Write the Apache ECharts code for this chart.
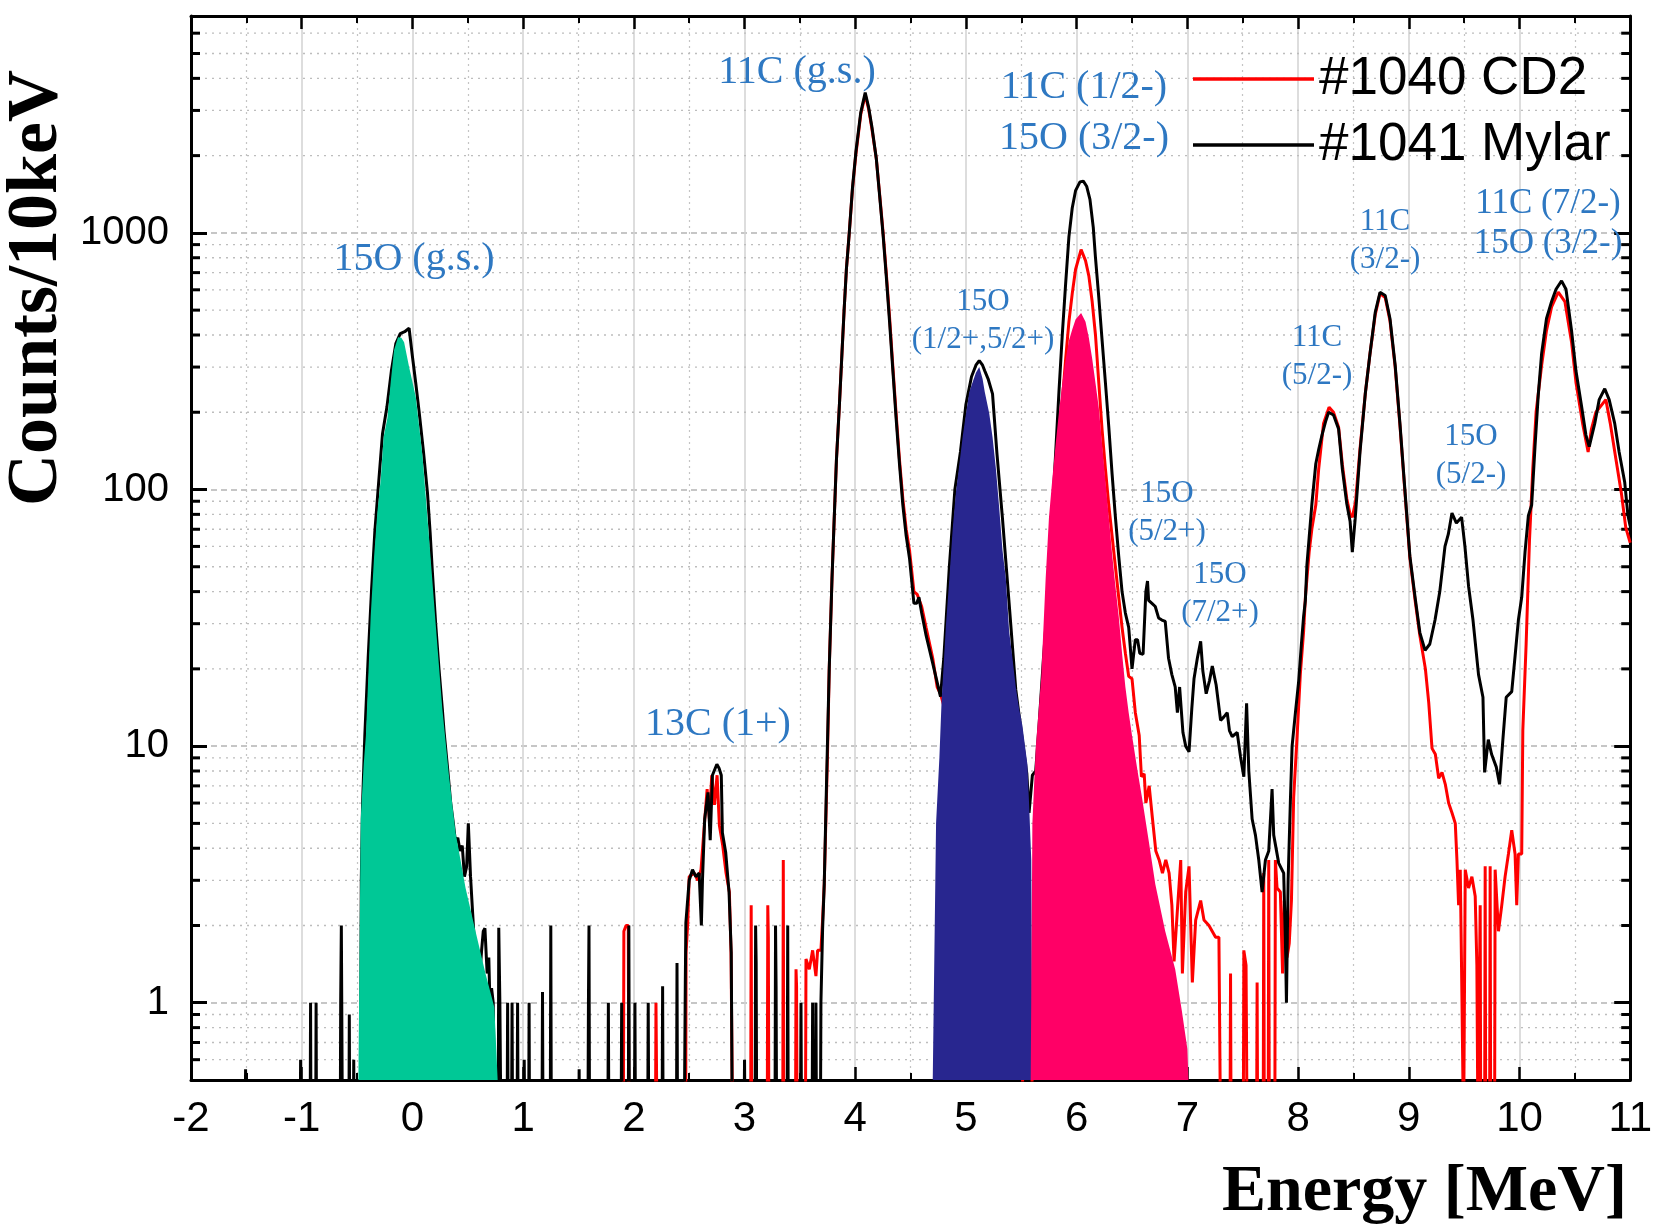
<!DOCTYPE html>
<html><head><meta charset="utf-8">
<script src="https://cdn.jsdelivr.net/npm/echarts/dist/echarts.min.js"></script>
<style>html,body{margin:0;padding:0;background:#fff}#c{width:1655px;height:1227px}</style>
</head><body><div id="c"></div>
<script>
// ---------------- data ----------------
const X_RANGE = [-2, 11];
const Y_RANGE = [0.5, 7000];
const Y_MAJOR = [1, 10, 100, 1000];
const Y_MINOR = [0.6,0.7,0.8,0.9,2,3,4,5,6,7,8,9,20,30,40,50,60,70,80,90,200,300,400,500,600,700,800,900,2000,3000,4000,5000,6000];
const SERIES_NAMES = ['#1040 CD2', '#1041 Mylar'];

// [energy MeV, counts per 10 keV]; 0 = empty bin
const mylar = [
[-2,0],[-1.512,0],[-1.507,0.55],[-1.502,0],
[-1.014,0],[-1.01,0.6],[-1.006,0],
[-0.924,0],[-0.92,1],[-0.916,0],
[-0.874,0],[-0.87,1],[-0.866,0],
[-0.652,0],[-0.648,1],[-0.642,2],[-0.636,2],[-0.632,0],
[-0.574,0],[-0.57,0.9],[-0.566,0],
[-0.534,0],[-0.53,0.6],[-0.526,0],
[-0.47,0],[-0.462,3],[-0.45,6],[-0.43,11],[-0.40,22],[-0.37,40],[-0.34,68],[-0.31,100],[-0.27,165],[-0.23,210],[-0.19,290],[-0.15,370],[-0.11,405],[-0.07,412],[-0.03,425],[0.0,330],[0.03,260],[0.06,202],[0.10,140],[0.136,97],[0.16,68],[0.18,48],[0.21,30],[0.24,20],[0.27,14],[0.286,11.4],[0.30,11.2],[0.32,8],[0.346,6],[0.37,5],[0.39,4.2],[0.41,4.4],[0.43,3.9],[0.45,4.1],[0.47,3.1],[0.49,3.4],[0.505,5],[0.515,5],[0.525,3.1],[0.545,2.2],[0.56,1.7],[0.572,1.65],[0.59,1.6],[0.61,1.3],[0.625,1.6],[0.64,1.9],[0.655,1.95],[0.663,1.92],[0.675,1.3],[0.69,1.5],[0.70,1.0],[0.715,1.14],[0.73,1.0],[0.745,0],[0.775,0],[0.78,1.96],[0.79,1],[0.80,0],
[0.855,0],[0.86,1],[0.865,0],[0.895,0],[0.9,1],[0.905,0],[0.945,0],[0.95,1],[0.955,0],[1.005,0],[1.01,0.6],[1.015,0],[1.05,0],[1.054,1],[1.058,0],[1.17,0],[1.175,1.1],[1.18,0],[1.245,0],[1.25,2],[1.255,0],[1.502,0],[1.506,0.55],[1.51,0],[1.585,0],[1.59,1],[1.595,2],[1.6,0],[1.765,0],[1.77,1],[1.775,0],[1.885,0],[1.89,1],[1.895,0],[1.95,0],[1.955,2],[1.96,0],[2.005,0],[2.01,1],[2.015,0],[2.125,0],[2.13,1],[2.135,0],[2.255,0],[2.26,1.16],[2.265,0],[2.385,0],[2.39,1.43],[2.395,0],
[2.455,0],[2.465,1.2],[2.47,2.05],[2.50,3.0],[2.53,3.3],[2.56,3.1],[2.59,3.2],[2.61,2.0],[2.62,3],[2.64,5.2],[2.67,6.6],[2.69,4.3],[2.71,7.7],[2.75,8.5],[2.77,8.2],[2.79,7.7],[2.80,4.6],[2.83,3.85],[2.86,2.7],[2.88,1.57],[2.89,0],
[2.995,0],[3.0,0.6],[3.005,0],[3.095,0],[3.1,2],[3.105,1.43],[3.11,0],[3.275,0],[3.28,2],[3.285,1.16],[3.29,0],[3.385,0],[3.39,2],[3.395,0],[3.505,0],[3.51,1],[3.515,0],[3.61,0],[3.615,1],[3.62,0],[3.64,0],[3.645,1],[3.65,0],[3.685,0],[3.69,1],[3.705,1.93],[3.72,2.9],[3.74,7],[3.765,20],[3.79,45],[3.81,77],[3.83,130],[3.856,210],[3.88,340],[3.9,505],[3.92,720],[3.946,1000],[3.975,1500],[4.006,2070],[4.05,2950],[4.09,3520],[4.12,3100],[4.15,2600],[4.19,1950],[4.22,1400],[4.25,1000],[4.28,680],[4.31,450],[4.34,290],[4.37,187],[4.4,125],[4.43,87],[4.46,66],[4.49,54],[4.53,36],[4.555,36],[4.575,38],[4.6,33],[4.64,27],[4.7,21],[4.77,15.6],[4.8,22],[4.85,50],[4.9,100],[4.95,140],[5.0,215],[5.05,275],[5.09,305],[5.12,318],[5.15,305],[5.17,290],[5.2,270],[5.24,236],[5.28,138],[5.33,77],[5.39,36],[5.45,16.6],[5.51,10.5],[5.55,7.8],[5.57,5.5],[5.6,7.7],[5.63,8],
[5.66,12],[5.70,22],[5.75,43],[5.78,80],[5.81,138],[5.84,240],[5.87,400],[5.9,630],[5.93,965],[5.96,1250],[5.99,1460],[6.03,1580],[6.06,1590],[6.09,1520],[6.12,1350],[6.15,1050],[6.17,800],[6.2,560],[6.23,380],[6.26,260],[6.29,176],[6.32,115],[6.35,78],[6.38,55],[6.41,40],[6.44,33],[6.47,29],[6.5,20],[6.53,26],[6.55,26],[6.57,23],[6.6,22.8],[6.625,40],[6.64,44],[6.65,37],[6.68,36],[6.71,35],[6.74,31.6],[6.77,31],[6.8,30.6],[6.83,22],[6.86,19],[6.89,17],[6.91,13.5],[6.93,17],[6.96,11.3],[6.985,10],[7.015,9.5],[7.04,14],[7.06,18.3],[7.09,22],[7.12,25.6],[7.14,19.6],[7.17,16],[7.2,18],[7.225,20.5],[7.26,17.3],[7.3,12.6],[7.33,13],[7.36,13.5],[7.38,11.5],[7.405,10.9],[7.45,11.3],[7.48,9.1],[7.51,7.6],[7.535,14.7],[7.555,8],[7.585,5.2],[7.615,4.5],[7.645,3.6],[7.675,2.7],[7.705,3.6],[7.735,3.9],[7.765,6.8],[7.78,4.5],[7.825,3.5],[7.87,3.2],[7.885,1.8],[7.895,1.0],[7.91,3.0],[7.93,6],[7.946,10],[7.976,13.5],[8.006,18],[8.03,25],[8.05,32],[8.066,37],[8.08,51],[8.1,65],[8.126,89],[8.16,126],[8.186,143],[8.216,163],[8.25,185],[8.276,200],[8.32,195],[8.366,172],[8.4,120],[8.44,88],[8.47,75],[8.49,57],[8.516,77],[8.56,141],[8.607,236],[8.65,339],[8.697,490],[8.74,587],[8.787,570],[8.83,464],[8.877,305],[8.92,181],[8.967,97],[9.01,55],[9.057,38],[9.1,27.7],[9.147,23.6],[9.19,25],[9.237,31],[9.28,40],[9.327,60],[9.357,67],[9.39,81],[9.43,74],[9.477,78],[9.507,60],[9.54,42],[9.58,31],[9.63,19],[9.67,15.5],[9.685,7.9],[9.718,10.6],[9.748,9.3],[9.79,8.3],[9.82,7.1],[9.85,10.6],[9.88,15.5],[9.93,16.3],[9.96,22.4],[9.99,31],[10.02,38],[10.05,57],[10.08,79],[10.11,87],[10.14,147],[10.17,235],[10.2,339],[10.244,464],[10.29,540],[10.33,603],[10.38,650],[10.42,603],[10.47,417],[10.51,290],[10.56,212],[10.6,163],[10.63,147],[10.68,181],[10.72,224],[10.77,247],[10.81,224],[10.86,181],[10.9,140],[10.95,107],[10.98,79],[11.0,72]
];

const cd2 = [
[-2,0],[1.905,0],[1.91,1.9],[1.93,2],[1.95,2],[1.955,0],[2.195,0],[2.2,1],[2.205,1],[2.21,0],
[2.468,0],[2.472,1.57],[2.487,2.05],[2.50,3.1],[2.547,3.2],[2.577,3.0],[2.607,3.3],[2.638,5.0],[2.662,6.8],[2.683,5.2],[2.704,7.7],[2.728,5.9],[2.752,7.7],[2.773,4.9],[2.803,4.1],[2.833,3.2],[2.863,2.7],[2.878,1.57],[2.893,0],
[3.055,0],[3.06,2.4],[3.065,0],[3.205,0],[3.21,2.4],[3.215,1.8],[3.22,0],[3.345,0],[3.35,3.6],[3.355,0],[3.46,0],[3.465,1.35],[3.47,1.16],[3.475,0],[3.55,0],[3.555,1.48],[3.585,1.35],[3.615,1.6],[3.645,1.27],[3.66,1.6],[3.69,1.6],[3.705,2.1],[3.72,2.9],[3.735,5.2],[3.75,9.5],[3.765,20],
[3.79,45],[3.81,77],[3.83,130],[3.856,210],[3.88,340],[3.9,505],[3.92,720],[3.946,1000],[3.975,1480],[4.006,2030],[4.05,2900],[4.09,3450],[4.12,3050],[4.15,2550],[4.19,1950],[4.22,1420],[4.25,1020],[4.28,700],[4.31,470],[4.34,300],[4.37,195],[4.4,130],[4.43,92],[4.46,70],[4.49,58],[4.53,40],[4.56,39],[4.6,35],[4.64,29],[4.7,22],[4.74,17],[4.77,16],[4.85,12],[4.95,8],[5.05,6],[5.2,4],[5.35,2],[5.45,1.5],[5.5,1],[5.52,0],[5.59,0],[5.61,1.2],[5.65,5],[5.72,20],[5.78,45],[5.81,78],[5.84,130],[5.87,220],[5.9,320],[5.93,450],[5.96,580],[5.99,720],[6.04,860],[6.08,780],[6.11,680],[6.14,540],[6.17,400],[6.2,260],[6.23,170],[6.26,120],[6.29,87],[6.32,66],[6.35,50],[6.38,38],[6.41,29],[6.44,23],[6.47,18.7],[6.5,18.3],[6.53,13.5],[6.565,11],[6.585,7.6],[6.61,7.8],[6.625,6],[6.655,7],[6.685,5.2],[6.715,3.9],[6.745,3.6],[6.775,3.2],[6.805,3.6],[6.835,3.2],[6.86,2.4],[6.88,1.45],[6.91,2.3],[6.94,3.6],[6.955,1.3],[6.985,2.7],[7.015,3.4],[7.045,1.2],[7.075,2.1],[7.12,2.5],[7.15,2.1],[7.195,2.0],[7.255,1.8],[7.285,1.8],[7.3,0],[7.385,0],[7.39,1.3],[7.395,0],[7.505,0],[7.51,1.6],[7.53,1.4],[7.54,0],[7.625,0],[7.63,1.2],[7.635,0],[7.685,0],[7.69,3.2],[7.695,0],[7.73,0],[7.735,3.6],[7.74,0],[7.79,0],[7.795,3.6],[7.81,2.8],[7.84,2.7],[7.86,1.3],[7.875,2.5],[7.9,1.5],[7.92,1.7],[7.94,2.5],[7.96,6.3],[7.99,10.7],[8.02,19],[8.05,28],[8.066,38],[8.1,57],[8.126,71],[8.16,87],[8.186,120],[8.23,181],[8.28,209],[8.32,200],[8.366,175],[8.4,125],[8.44,92],[8.47,80],[8.49,78],[8.52,90],[8.56,145],[8.607,236],[8.65,339],[8.697,480],[8.74,580],[8.787,560],[8.83,455],[8.877,300],[8.92,178],[8.967,95],[9.01,54],[9.057,37],[9.1,27],[9.15,20],[9.18,14.8],[9.21,9.8],[9.24,9.3],[9.27,7.5],[9.3,7.9],[9.33,7.1],[9.36,6.0],[9.39,5.5],[9.42,5.0],[9.435,3.6],[9.45,2.4],[9.465,3.3],[9.48,1.06],[9.495,0],[9.505,0],[9.51,3.3],[9.54,2.8],[9.57,3.1],[9.6,2.6],[9.615,1.4],[9.625,0],[9.64,0],[9.645,2.4],[9.65,0],[9.685,0],[9.69,3.4],[9.695,0],[9.73,0],[9.735,3.4],[9.74,0],[9.775,0],[9.78,3.3],[9.81,1.9],[9.84,2.4],[9.87,3.1],[9.9,3.8],[9.93,4.7],[9.96,3.8],[9.975,2.4],[9.99,3.8],[10.02,3.8],[10.03,11.5],[10.06,25],[10.09,63],[10.12,120],[10.15,200],[10.2,305],[10.244,417],[10.29,515],[10.35,587],[10.41,540],[10.47,376],[10.51,262],[10.57,181],[10.62,140],[10.65,172],[10.69,200],[10.78,224],[10.82,181],[10.87,132],[10.92,97],[10.96,71],[11.0,62]
];

// highlighted peaks (filled areas)
const peak15O_gs = [[-0.488,0.5],[-0.467,5.2],[-0.44,8.5],[-0.42,11],[-0.40,18],[-0.377,32],[-0.346,55],[-0.316,82],[-0.286,110],[-0.26,160],[-0.226,190],[-0.196,262],[-0.166,350],[-0.13,392],[-0.10,390],[-0.075,375],[-0.03,300],[0.03,230],[0.09,137],[0.15,65],[0.21,30],[0.27,14],[0.33,7.7],[0.39,4.6],[0.48,2.8],[0.57,1.9],[0.66,1.3],[0.74,0.96],[0.77,0.5]];
const peak15O_half = [[4.70,0.5],[4.73,5],[4.76,9],[4.78,15],[4.82,30],[4.85,45],[4.88,70],[4.91,98],[4.94,125],[4.97,160],[5.0,197],[5.03,240],[5.06,262],[5.09,285],[5.12,300],[5.15,270],[5.17,240],[5.21,198],[5.24,160],[5.27,121],[5.3,85],[5.33,58],[5.36,45],[5.39,28],[5.42,22],[5.45,17],[5.48,14],[5.51,12],[5.54,9.5],[5.555,8.5],[5.57,6],[5.59,3.6],[5.6,0.5]];
const peak11C_half = [[5.585,0.5],[5.6,5],[5.63,9.8],[5.68,18.6],[5.72,45],[5.75,78],[5.78,110],[5.81,150],[5.84,200],[5.87,258],[5.9,320],[5.93,380],[5.96,420],[5.99,460],[6.04,487],[6.08,450],[6.11,390],[6.14,324],[6.17,260],[6.2,208],[6.23,150],[6.26,108],[6.29,78],[6.32,56],[6.35,42],[6.38,32],[6.41,23],[6.44,17],[6.47,13.5],[6.5,11],[6.55,8],[6.59,6.3],[6.65,4.3],[6.71,2.9],[6.8,1.9],[6.89,1.35],[6.95,0.93],[7.0,0.66],[7.01,0.5]];

const STATE_LABELS = ['15O (g.s.)','11C (g.s.)','11C (1/2-)\n15O (3/2-)','15O\n(1/2+,5/2+)','13C (1+)','15O\n(5/2+)','15O\n(7/2+)','11C\n(5/2-)','11C\n(3/2-)','15O\n(5/2-)','11C (7/2-)\n15O (3/2-)'];
const X_TITLE = 'Energy [MeV]';
const Y_TITLE = 'Counts/10keV';

// ---------------- layout / style ----------------
const LABEL_LAYOUT = [[414,259,40,46],[797,72,40,46],[1084,113,40,51],[983,321,31,38],[718,724,40,46],[1167,513,31,38],[1220,594,31,38],[1317,357,31,38],[1385,241,31,38],[1471,456,31,38],[1548,224,35,40]];
const FLOOR = 0.3; // empty bins drawn below the axis floor
const prep = arr => arr.map(([e, c]) => [e, c > 0 ? c : FLOOR]);
const numFont = "'Liberation Sans',Arial,sans-serif";
const serif = "'Liberation Serif','Times New Roman',serif";

const chart = echarts.init(document.getElementById('c'), null, {renderer: 'canvas', width: 1655, height: 1227});

const xAxisBase = {
  type: 'value', min: X_RANGE[0], max: X_RANGE[1], interval: 1,
  axisLine: {onZero: false, lineStyle: {color: '#000', width: 3}},
  axisTick: {inside: true, length: 13, lineStyle: {color: '#000', width: 2.5}},
  minorTick: {show: true, splitNumber: 2, length: 7, lineStyle: {color: '#000', width: 2}}
};
const yAxisBase = {
  type: 'log', logBase: 10, min: Y_RANGE[0], max: Y_RANGE[1],
  axisLine: {onZero: false, lineStyle: {color: '#000', width: 3}},
  axisTick: {inside: true, length: 16, lineStyle: {color: '#000', width: 3}}
};

const fillSeries = (data, color) => ({
  type: 'line', data: data, symbol: 'none', showSymbol: false, z: 5, silent: true,
  lineStyle: {width: 0, opacity: 0}, itemStyle: {color: color},
  areaStyle: {color: color, opacity: 1, origin: 'start'}, animation: false
});

const option = {
  animation: false,
  backgroundColor: '#fff',
  grid: {left: 191, right: 21, top: 16, bottom: 147, containLabel: false},
  xAxis: [
    Object.assign({}, xAxisBase, {
      position: 'bottom',
      axisLabel: {fontFamily: numFont, fontSize: 42, color: '#000', margin: 18},
      splitLine: {show: true, lineStyle: {color: '#d2d2d2', width: 1.5}},
      minorSplitLine: {show: true, lineStyle: {color: '#c4c4c4', width: 1.2, type: [2, 4]}}
    }),
    Object.assign({}, xAxisBase, {position: 'top', axisLabel: {show: false}, splitLine: {show: false}})
  ],
  yAxis: [
    Object.assign({}, yAxisBase, {
      position: 'left',
      axisLabel: {
        fontFamily: numFont, fontSize: 40, color: '#000', margin: 22,
        formatter: v => (Y_MAJOR.some(m => Math.abs(m - v) / m < 1e-6) ? String(Math.round(v)) : '')
      },
      splitLine: {show: true, lineStyle: {color: '#b4b4b4', width: 1.5, type: [6, 4]}}
    }),
    Object.assign({}, yAxisBase, {position: 'right', axisLabel: {show: false}, splitLine: {show: false}})
  ],
  legend: {
    data: SERIES_NAMES, orient: 'vertical', left: 1188, top: 44,
    itemWidth: 121, itemHeight: 3.5, itemGap: 6, icon: 'rect', selectedMode: false,
    textStyle: {fontFamily: "'Liberation Sans',Arial,sans-serif", fontSize: 53, color: '#000', lineHeight: 60}
  },
  series: [
    {
      type: 'custom', z: 1, silent: true,
      data: Y_MINOR.map(v => [X_RANGE[0], v]),
      encode: {x: 0, y: 1},
      renderItem: (params, api) => {
        const v = api.value(1);
        const pL = api.coord([X_RANGE[0], v]);
        const pR = api.coord([X_RANGE[1], v]);
        return {type: 'group', children: [
          {type: 'line', shape: {x1: pL[0], y1: pL[1], x2: pR[0], y2: pR[1]}, style: {stroke: '#bdbdbd', lineWidth: 1.3, lineDash: [2, 5]}},
          {type: 'line', shape: {x1: pL[0], y1: pL[1], x2: pL[0] + 9, y2: pL[1]}, style: {stroke: '#000', lineWidth: 3}},
          {type: 'line', shape: {x1: pR[0] - 9, y1: pR[1], x2: pR[0], y2: pR[1]}, style: {stroke: '#000', lineWidth: 3}}
        ]};
      }
    },
    {
      name: SERIES_NAMES[0], type: 'line', data: prep(cd2), symbol: 'none', showSymbol: false, z: 3,
      color: '#ff0000', lineStyle: {color: '#ff0000', width: 3}, itemStyle: {color: '#ff0000'}, clip: true, sampling: 'none'
    },
    {
      name: SERIES_NAMES[1], type: 'line', data: prep(mylar), symbol: 'none', showSymbol: false, z: 4,
      color: '#000000', lineStyle: {color: '#000', width: 3}, itemStyle: {color: '#000'}, clip: true, sampling: 'none'
    },
    fillSeries(peak15O_gs, '#00c896'),
    fillSeries(peak15O_half, '#28268f'),
    fillSeries(peak11C_half, '#ff0066')
  ],
  graphic: STATE_LABELS.map((t, i) => ({
    type: 'text', x: LABEL_LAYOUT[i][0], y: LABEL_LAYOUT[i][1], z: 100, silent: true,
    style: {text: t, fill: '#2e78c2', font: LABEL_LAYOUT[i][2] + 'px ' + serif, align: 'center', verticalAlign: 'middle', lineHeight: LABEL_LAYOUT[i][3]}
  })).concat([
    {type: 'text', x: 1627, y: 1193, z: 100, silent: true,
     style: {text: X_TITLE, fill: '#000', font: 'bold 66px ' + serif, align: 'right', verticalAlign: 'middle'}},
    {type: 'text', x: 37, y: 288, rotation: Math.PI / 2, z: 100, silent: true,
     style: {text: Y_TITLE, fill: '#000', font: 'bold 72px ' + serif, align: 'center', verticalAlign: 'middle'}}
  ])
};
chart.setOption(option);
</script>
</body></html>
